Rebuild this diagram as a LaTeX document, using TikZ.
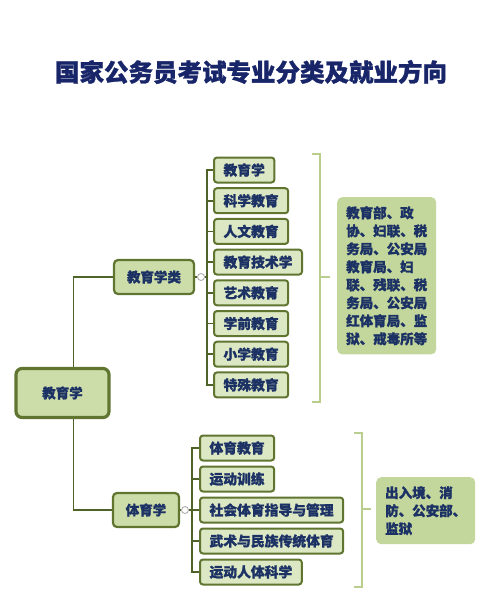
\documentclass[tikz,border=0pt]{standalone}
\usepackage{fontspec}
\usepackage{tikz}
\newfontfamily\cjk[BoldFeatures={FakeBold=1.2}]{Noto Sans CJK SC}
\definecolor{boxfill}{RGB}{205,221,170}
\definecolor{boxline}{RGB}{95,117,48}
\definecolor{spine}{RGB}{79,98,40}
\definecolor{navy}{RGB}{28,50,100}
\definecolor{titleblue}{RGB}{24,38,105}
\definecolor{brackline}{RGB}{185,205,140}
\definecolor{infofill}{RGB}{195,214,155}

\begin{document}
\begin{tikzpicture}[x=1pt,y=-1pt]
         \tikzset{every node/.style={font=\cjk\bfseries\fontsize{13.5}{18}\selectfont,text=navy}}
         \tikzset{rootbox/.style={draw=boxline,line width=3.2pt,fill=boxfill,rounded corners=6pt,minimum width=93pt,minimum height=49pt}}
         \tikzset{catbox/.style={draw=boxline,line width=2.2pt,fill=boxfill,rounded corners=4pt,minimum height=34pt,inner xsep=8pt}}
         \tikzset{subbox/.style={draw=boxline,line width=2pt,fill=boxfill!70,rounded corners=3pt,minimum height=25pt,anchor=west,inner xsep=9.5pt,font=\cjk\bfseries\fontsize{13.8}{18}\selectfont}}
         \tikzset{infobox/.style={fill=infofill,rounded corners=5pt,anchor=north west,align=left,inner sep=9pt}}
         \tikzset{link/.style={draw=spine,line width=1.8pt}}
         \tikzset{brack/.style={draw=brackline,line width=2.6pt}}
         \tikzset{knob/.style={circle,draw=gray!70,fill=white,line width=0.8pt,inner sep=0pt,minimum size=7pt}}
         \useasboundingbox (0,0) rectangle (500,595);
         \node[font=\cjk\bfseries\fontsize{24.5}{28}\selectfont,text=titleblue] (title) at (251,72) {国家公务员考试专业分类及就业方向};
         % root
         \node[rootbox] (root) at (62.5,393) {教育学};
         % first branch
         \node[catbox,minimum width=80pt] (cat1) at (154,277) {教育学类};
         \node[knob] (k1) at (201,277) {};
         \foreach \t [count=\i] in {教育学,科学教育,人文教育,教育技术学,艺术教育,学前教育,小学教育,特殊教育}
            \node[subbox] (a\i) at (213,{170+30.7*(\i-1)}) {\t};
         \coordinate (sp1) at (207,277);
         \draw[link] ([xshift=11pt]root.north) |- (cat1.west);
         \draw[link] (cat1.east) -- (k1.west);
         \draw[link] (k1.east) -- (sp1);
         \foreach \i in {1,...,8}
            \draw[link] (sp1) |- (a\i.west);
         \draw[brack] (312,154) -- (320,154) -- (320,402) -- (312,402);
         \coordinate (b1) at (330,277);
         \draw[brack] (320,277) -- (b1);
         \node[infobox] (info1) at (337,197) {教育部、政\\协、妇联、税\\务局、公安局\\教育局、妇\\联、残联、税\\务局、公安局\\红体育局、监\\狱、戒毒所等};
         % second branch
         \node[catbox,minimum width=66pt] (cat2) at (146,510) {体育学};
         \node[knob] (k2) at (185,510) {};
         \foreach \t [count=\i] in {体育教育,运动训练,社会体育指导与管理,武术与民族传统体育,运动人体科学}
            \node[subbox] (b\i) at (199,{448+31*(\i-1)}) {\t};
         \coordinate (sp2) at (192,510);
         \draw[link] ([xshift=11pt]root.south) |- (cat2.west);
         \draw[link] (cat2.east) -- (k2.west);
         \draw[link] (k2.east) -- (sp2);
         \foreach \i in {1,...,5}
            \draw[link] (sp2) |- (b\i.west);
         \draw[brack] (354,433) -- (362,433) -- (362,587) -- (354,587);
         \coordinate (b2) at (371,509);
         \draw[brack] (362,509) -- (b2);
         \node[infobox] (info2) at (376,477) {出入境、消\\防、公安部、\\监狱};
\end{tikzpicture}
\end{document}
